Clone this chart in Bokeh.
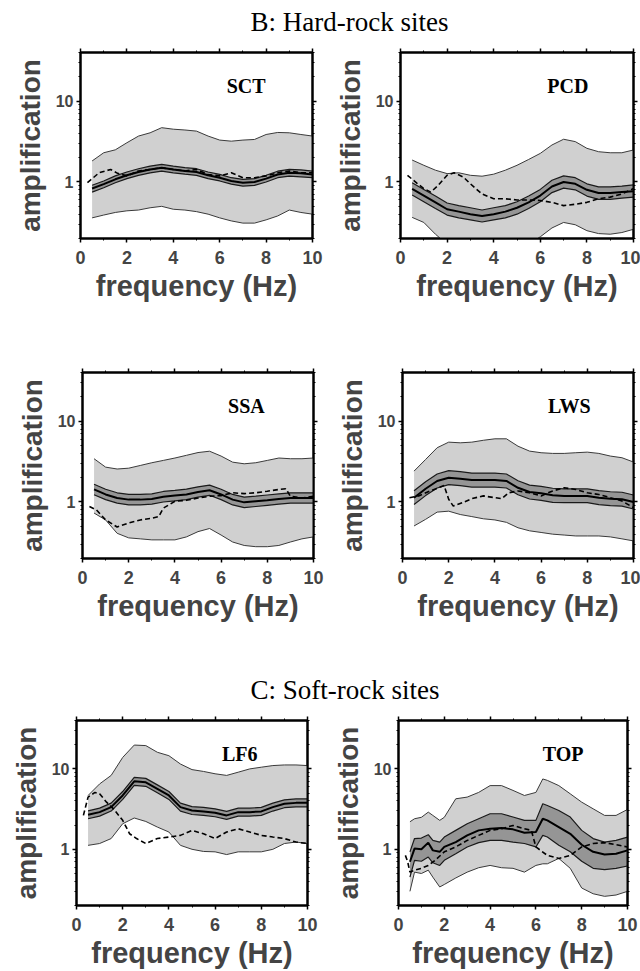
from bokeh.plotting import figure
from bokeh.models import FixedTicker, LinearAxis, LogAxis, Label, Range1d, Title
from bokeh.layouts import column, row
from bokeh.embed import file_html
from bokeh.resources import INLINE

# ---------------- data ----------------
freq = [0.5, 1.0, 1.5, 2.0, 2.5, 3.0, 3.5, 4.0, 4.5, 5.0, 5.5, 6.0, 6.5, 7.0, 7.5, 8.0, 8.5, 9.0, 9.5, 10.0]

# SCT
sct_hi = [1.82, 2.30, 2.50, 3.06, 3.70, 4.06, 4.70, 4.50, 4.40, 4.26, 3.70, 3.30, 3.20, 3.30, 3.36, 3.87, 4.10, 4.06, 3.87, 3.70]
sct_lo = [0.36, 0.39, 0.42, 0.44, 0.45, 0.48, 0.50, 0.46, 0.45, 0.43, 0.40, 0.36, 0.33, 0.31, 0.31, 0.34, 0.38, 0.45, 0.42, 0.40]
sct_ch = [0.91, 1.03, 1.19, 1.33, 1.46, 1.57, 1.65, 1.57, 1.51, 1.46, 1.33, 1.24, 1.13, 1.08, 1.10, 1.21, 1.36, 1.43, 1.41, 1.36]
sct_mid = [0.83, 0.94, 1.08, 1.21, 1.33, 1.43, 1.50, 1.43, 1.37, 1.33, 1.21, 1.13, 1.03, 0.98, 1.00, 1.10, 1.24, 1.30, 1.28, 1.24]
sct_cl = [0.75, 0.85, 0.98, 1.10, 1.21, 1.30, 1.36, 1.30, 1.25, 1.21, 1.10, 1.03, 0.94, 0.89, 0.91, 1.00, 1.13, 1.18, 1.16, 1.13]
sct_fd = [0.3, 0.8, 1.3, 1.6, 2.0, 2.5, 3.0, 3.5, 4.0, 4.5, 5.0, 5.5, 6.0, 6.5, 7.0, 7.5, 8.0, 8.5, 9.0, 9.5, 10.0]
sct_dash = [0.98, 1.30, 1.43, 1.28, 1.19, 1.37, 1.43, 1.50, 1.43, 1.37, 1.43, 1.24, 1.19, 1.30, 1.13, 1.13, 1.19, 1.30, 1.37, 1.30, 1.30]

# PCD
pcd_hi = [1.87, 1.61, 1.40, 1.27, 1.30, 1.21, 1.18, 1.25, 1.40, 1.61, 1.90, 2.26, 2.87, 3.38, 3.16, 2.61, 2.37, 2.30, 2.30, 2.49]
pcd_lo = [0.365, 0.316, 0.226, 0.17, 0.15, 0.14, 0.13, 0.13, 0.14, 0.15, 0.17, 0.21, 0.27, 0.316, 0.296, 0.25, 0.23, 0.226, 0.237, 0.26]
pcd_ch = [0.98, 0.81, 0.67, 0.55, 0.51, 0.48, 0.45, 0.48, 0.51, 0.57, 0.67, 0.81, 1.05, 1.19, 1.13, 0.95, 0.87, 0.87, 0.89, 0.92]
pcd_mid = [0.82, 0.68, 0.56, 0.46, 0.43, 0.40, 0.38, 0.40, 0.43, 0.48, 0.56, 0.68, 0.88, 1.00, 0.95, 0.80, 0.73, 0.73, 0.75, 0.77]
pcd_cl = [0.69, 0.57, 0.47, 0.39, 0.36, 0.34, 0.32, 0.34, 0.36, 0.40, 0.47, 0.57, 0.74, 0.84, 0.80, 0.67, 0.61, 0.61, 0.63, 0.65]
pcd_fd = [0.3, 0.7, 1.0, 1.3, 1.6, 2.0, 2.3, 2.7, 3.0, 3.5, 4.0, 4.5, 5.0, 5.5, 6.0, 6.5, 7.0, 7.5, 8.0, 8.5, 9.0, 9.5, 10.0]
pcd_dash = [1.21, 0.97, 0.83, 0.75, 0.90, 1.21, 1.30, 1.15, 0.95, 0.71, 0.62, 0.62, 0.60, 0.60, 0.59, 0.56, 0.51, 0.53, 0.56, 0.62, 0.65, 0.71, 0.83]

# SSA
ssa_hi = [3.43, 2.70, 2.56, 2.62, 2.83, 3.06, 3.27, 3.50, 3.78, 4.09, 4.25, 3.70, 3.11, 2.97, 3.06, 3.27, 3.50, 3.43, 3.43, 3.50]
ssa_lo = [0.73, 0.60, 0.41, 0.36, 0.35, 0.34, 0.34, 0.34, 0.37, 0.43, 0.47, 0.39, 0.32, 0.29, 0.28, 0.28, 0.29, 0.32, 0.35, 0.37]
ssa_ch = [1.66, 1.44, 1.30, 1.24, 1.24, 1.26, 1.35, 1.39, 1.44, 1.54, 1.62, 1.44, 1.24, 1.15, 1.18, 1.22, 1.26, 1.30, 1.30, 1.30]
ssa_mid = [1.43, 1.24, 1.12, 1.07, 1.07, 1.09, 1.16, 1.20, 1.24, 1.33, 1.40, 1.24, 1.07, 0.99, 1.02, 1.05, 1.09, 1.12, 1.12, 1.12]
ssa_cl = [1.23, 1.07, 0.97, 0.92, 0.92, 0.94, 1.00, 1.03, 1.07, 1.15, 1.21, 1.07, 0.92, 0.85, 0.88, 0.91, 0.94, 0.97, 0.97, 0.97]
ssa_fd = [0.3, 0.6, 1.0, 1.5, 2.0, 2.5, 3.0, 3.3, 3.5, 4.0, 4.5, 5.0, 5.5, 6.0, 6.5, 7.0, 7.5, 8.0, 8.5, 8.8, 9.0, 9.5, 10.0]
ssa_dash = [0.88, 0.80, 0.60, 0.49, 0.55, 0.60, 0.63, 0.66, 0.84, 1.02, 1.05, 1.12, 1.18, 1.20, 1.30, 1.27, 1.30, 1.36, 1.43, 1.46, 1.18, 1.12, 1.18]

# LWS
lws_hi = [2.41, 3.36, 4.69, 5.50, 5.40, 5.50, 5.80, 6.05, 6.05, 4.90, 4.26, 4.07, 3.99, 3.99, 4.07, 4.14, 3.99, 3.70, 3.53, 3.12]
lws_lo = [0.505, 0.61, 0.75, 0.77, 0.70, 0.66, 0.62, 0.60, 0.56, 0.48, 0.44, 0.42, 0.40, 0.39, 0.38, 0.38, 0.38, 0.37, 0.35, 0.33]
lws_ch = [1.38, 1.78, 2.22, 2.44, 2.37, 2.28, 2.28, 2.28, 2.22, 1.83, 1.62, 1.56, 1.48, 1.45, 1.45, 1.45, 1.38, 1.34, 1.32, 1.22]
lws_mid = [1.13, 1.46, 1.82, 2.00, 1.94, 1.87, 1.87, 1.87, 1.82, 1.50, 1.33, 1.28, 1.21, 1.19, 1.19, 1.19, 1.13, 1.10, 1.08, 1.00]
lws_cl = [0.93, 1.20, 1.49, 1.64, 1.59, 1.53, 1.53, 1.53, 1.49, 1.23, 1.09, 1.05, 0.99, 0.98, 0.98, 0.98, 0.93, 0.90, 0.89, 0.82]
lws_fd = [0.3, 0.7, 1.2, 1.8, 2.0, 2.2, 2.6, 3.0, 3.5, 4.0, 4.3, 4.6, 5.0, 5.5, 6.0, 6.5, 7.0, 7.5, 8.0, 8.5, 9.0, 9.5, 10.0]
lws_dash = [1.13, 1.19, 1.37, 1.60, 1.08, 0.89, 0.98, 1.10, 1.19, 1.13, 1.10, 1.30, 1.37, 1.30, 1.19, 1.37, 1.50, 1.43, 1.30, 1.24, 1.13, 1.03, 0.85]

# LF6
lf6_hi = [4.67, 6.50, 8.30, 13.9, 19.8, 19.5, 16.1, 14.6, 11.5, 9.8, 9.3, 8.7, 8.3, 9.1, 10.0, 10.5, 11.0, 11.2, 11.2, 11.0]
lf6_lo = [1.12, 1.18, 1.36, 2.08, 2.45, 2.22, 1.89, 1.64, 1.12, 1.00, 0.94, 0.93, 0.86, 0.93, 0.93, 0.93, 1.00, 1.18, 1.23, 1.18]
lf6_ch = [3.01, 3.25, 3.75, 5.23, 7.84, 7.62, 6.33, 5.23, 3.75, 3.40, 3.32, 3.19, 2.96, 3.25, 3.25, 3.32, 3.75, 4.12, 4.23, 4.23]
lf6_mid = [2.69, 2.90, 3.35, 4.67, 7.00, 6.80, 5.65, 4.67, 3.35, 3.04, 2.96, 2.85, 2.64, 2.90, 2.90, 2.96, 3.35, 3.68, 3.78, 3.78]
lf6_cl = [2.40, 2.59, 2.99, 4.17, 6.25, 6.07, 5.04, 4.17, 2.99, 2.71, 2.64, 2.54, 2.36, 2.59, 2.59, 2.64, 2.99, 3.29, 3.38, 3.38]
lf6_fd = [0.3, 0.5, 0.8, 1.0, 1.3, 1.6, 2.0, 2.3, 2.6, 3.0, 3.5, 4.0, 4.5, 5.0, 5.5, 6.0, 6.5, 7.0, 7.5, 8.0, 8.5, 9.0, 9.5, 10.0]
lf6_dash = [2.64, 4.46, 5.10, 4.90, 3.86, 3.19, 2.29, 1.56, 1.36, 1.18, 1.36, 1.42, 1.49, 1.72, 1.56, 1.36, 1.64, 1.80, 1.64, 1.49, 1.42, 1.36, 1.23, 1.18]

# TOP
top_f = [0.5, 0.7, 1.0, 1.3, 1.5, 1.8, 2.0, 2.5, 3.0, 3.5, 4.0, 4.5, 5.0, 5.5, 6.0, 6.3, 6.5, 7.0, 7.5, 8.0, 8.5, 9.0, 9.5, 10.0]
top_hi = [2.20, 2.40, 2.50, 2.90, 2.64, 2.29, 2.50, 4.25, 4.46, 5.10, 6.20, 6.20, 5.40, 4.67, 5.10, 7.50, 7.20, 6.20, 4.90, 3.86, 3.19, 2.64, 2.64, 3.13]
top_lo = [0.30, 0.52, 0.50, 0.55, 0.45, 0.34, 0.365, 0.44, 0.52, 0.59, 0.63, 0.59, 0.58, 0.52, 0.63, 0.66, 0.66, 0.77, 0.58, 0.33, 0.28, 0.26, 0.27, 0.30]
top_ch = [0.93, 1.36, 1.38, 1.52, 1.29, 1.23, 1.42, 1.72, 2.08, 2.40, 2.77, 2.77, 2.52, 2.29, 2.29, 3.68, 3.51, 3.04, 2.52, 1.72, 1.36, 1.23, 1.29, 1.42]
top_mid = [0.70, 1.02, 1.00, 1.21, 0.97, 0.93, 1.07, 1.23, 1.49, 1.72, 1.80, 1.84, 1.77, 1.61, 1.64, 2.40, 2.29, 1.89, 1.56, 1.14, 0.93, 0.86, 0.88, 0.97]
top_cl = [0.45, 0.73, 0.71, 0.80, 0.68, 0.63, 0.73, 0.88, 1.07, 1.21, 1.29, 1.29, 1.23, 1.18, 1.07, 1.49, 1.42, 1.12, 0.93, 0.71, 0.58, 0.56, 0.58, 0.62]
top_fd = [0.3, 0.4, 0.5, 0.7, 1.0, 1.3, 1.6, 2.0, 2.5, 3.0, 3.5, 4.0, 4.5, 5.0, 5.5, 5.8, 6.0, 6.5, 7.0, 7.5, 8.0, 8.5, 9.0, 9.5, 10.0]
top_dash = [0.84, 0.70, 0.52, 0.55, 0.58, 0.63, 0.73, 0.93, 1.07, 1.29, 1.49, 1.72, 1.80, 1.98, 1.80, 1.72, 1.07, 0.84, 0.77, 0.84, 1.07, 1.18, 1.21, 1.14, 1.07]

x_ticks = [0, 2, 4, 6, 8, 10]
x_minor = [1, 3, 5, 7, 9]
y_ticks = [1, 10]
y_minor = [0.2, 0.3, 0.4, 0.5, 0.6, 0.7, 0.8, 0.9, 2, 3, 4, 5, 6, 7, 8, 9, 20, 30, 40]

SANS = "Liberation Sans"
SERIF = "Liberation Serif"


def panel(name, f, lo, hi, cl, mid, ch, fd, dash, bl, fw, br, bt, fh, bb):
    p = figure(width=bl + fw + br, height=bt + fh + bb, y_axis_type="log",
               x_range=Range1d(0, 10), y_range=Range1d(0.2, 40),
               output_backend="svg", toolbar_location=None, title=None,
               min_border_left=bl, min_border_right=br, min_border_top=bt, min_border_bottom=bb,
               x_axis_label="frequency (Hz)", y_axis_label="amplification",
               background_fill_color="white", border_fill_color="white")
    p.xgrid.visible = False
    p.ygrid.visible = False
    p.outline_line_color = "black"
    p.outline_line_width = 2

    # extra frame ticks on top and right
    p.add_layout(LinearAxis(), "above")
    p.add_layout(LogAxis(), "right")

    for ax in p.xaxis:
        ax.ticker = FixedTicker(ticks=x_ticks, minor_ticks=x_minor)
    for ax in p.yaxis:
        ax.ticker = FixedTicker(ticks=y_ticks, minor_ticks=y_minor)
        ax.major_label_overrides = {1: "1", 10: "10"}
    for ax in p.axis:
        ax.axis_line_color = "black"
        ax.axis_line_width = 2
        ax.major_tick_in = 0
        ax.major_tick_out = 4
        ax.minor_tick_in = 0
        ax.minor_tick_out = 2
        ax.major_tick_line_color = "black"
        ax.minor_tick_line_color = "black"
        ax.major_tick_line_width = 1.5

    for ax in (p.above[0], p.right[0]):
        ax.major_label_text_font_size = "1px"
        ax.major_label_text_color = None
        ax.major_label_standoff = 0

    bx = p.below[0]
    bx.major_label_text_font = SANS
    bx.major_label_text_font_size = "18px"
    bx.major_label_text_font_style = "bold"
    bx.major_label_standoff = 8
    bx.axis_label_text_font = SANS
    bx.axis_label_text_font_size = "29px"
    bx.axis_label_text_font_style = "bold"
    bx.axis_label_standoff = 3

    ly = p.left[0]
    ly.major_label_text_font = SANS
    ly.major_label_text_font_size = "16px"
    ly.major_label_text_font_style = "bold"
    ly.major_label_standoff = 3
    ly.axis_label_text_font = SANS
    ly.axis_label_text_font_size = "28px"
    ly.axis_label_text_font_style = "bold"
    ly.axis_label_standoff = 7

    # outer scatter band
    p.varea(x=f, y1=lo, y2=hi, fill_color="#d0d0d0")
    p.line(f, hi, line_color="#3a3a3a", line_width=1)
    p.line(f, lo, line_color="#3a3a3a", line_width=1)
    # inner confidence band
    p.varea(x=f, y1=cl, y2=ch, fill_color="#959595")
    p.line(f, ch, line_color="#1a1a1a", line_width=1.2)
    p.line(f, cl, line_color="#1a1a1a", line_width=1.2)
    p.line(f, mid, line_color="black", line_width=2)
    # alternative estimate
    p.line(fd, dash, line_color="black", line_width=1.6, line_dash="5 3")

    p.add_layout(Label(x=6.3, y=21, text=name, text_font=SERIF, text_font_size="20px",
                       text_font_style="bold", text_baseline="top", text_color="black"))
    return p


def title_fig(text, w, h, pad_top):
    t = figure(width=w, height=h, x_range=Range1d(0, 1), y_range=Range1d(0, 1),
               output_backend="svg", toolbar_location=None, title=None,
               min_border=0, min_border_top=pad_top,
               x_axis_location=None, y_axis_location=None,
               outline_line_color=None)
    t.grid.visible = False
    t.add_layout(Title(text=text, align="left", offset=250, standoff=0,
                       text_font=SERIF, text_font_size="27px", text_font_style="normal",
                       text_color="black"), "above")
    return t


tB = title_fig("B: Hard-rock sites", 640, 44, 36)
p1 = panel("SCT", freq, sct_lo, sct_hi, sct_cl, sct_mid, sct_ch, sct_fd, sct_dash, 80, 232, 12, 8, 186, 118)
p2 = panel("PCD", freq, pcd_lo, pcd_hi, pcd_cl, pcd_mid, pcd_ch, pcd_fd, pcd_dash, 76, 233, 7, 8, 186, 118)
p3 = panel("SSA", freq, ssa_lo, ssa_hi, ssa_cl, ssa_mid, ssa_ch, ssa_fd, ssa_dash, 82, 231, 11, 16, 186, 102)
p4 = panel("LWS", freq, lws_lo, lws_hi, lws_cl, lws_mid, lws_ch, lws_fd, lws_dash, 78, 231, 7, 16, 186, 102)
tC = title_fig("C: Soft-rock sites", 640, 52, 44)
p5 = panel("LF6", freq, lf6_lo, lf6_hi, lf6_cl, lf6_mid, lf6_ch, lf6_fd, lf6_dash, 76, 231, 17, 8, 187, 64)
p6 = panel("TOP", top_f, top_lo, top_hi, top_cl, top_mid, top_ch, top_fd, top_dash, 74, 229, 13, 8, 187, 64)

layout = column(tB, row(p1, p2), row(p3, p4), tC, row(p5, p6))

open("out.html", "w").write(file_html(layout, INLINE))
